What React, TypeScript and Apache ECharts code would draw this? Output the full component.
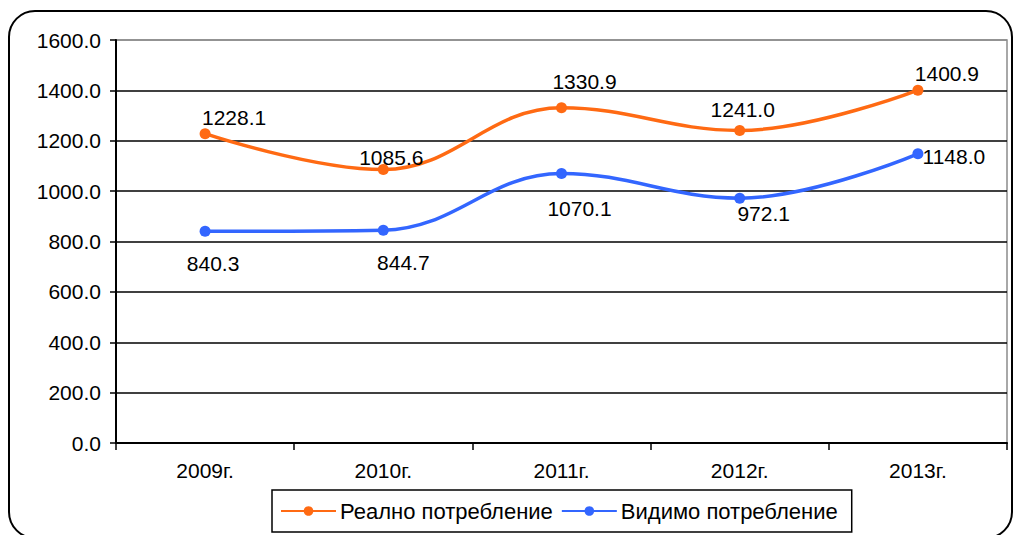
import React, { useEffect, useRef } from "react";
import * as echarts from "echarts";

const categories = ["2009г.", "2010г.", "2011г.", "2012г.", "2013г."];
const realValues = [1228.1, 1085.6, 1330.9, 1241.0, 1400.9];
const visibleValues = [840.3, 844.7, 1070.1, 972.1, 1148.0];
const seriesNames = ["Реално потребление", "Видимо потребление"];
const yTicks = { min: 0, max: 1600, interval: 200 };

const realOffsets = [[29, -16], [8, -12], [23, -26], [3, -21], [29, -17]];
const visibleOffsets = [[8, 32], [20, 32], [18, 35], [24, 15], [36, 3]];

const FONT = "'Liberation Sans', Arial, sans-serif";
const FS = 21;

export default function App() {
  const ref = useRef<HTMLDivElement>(null);
  useEffect(() => {
    if (!ref.current) return;
    const chart = echarts.init(ref.current, undefined, { renderer: "svg" });
    const mk = (vals: number[], offs: number[][]) =>
      vals.map((v, i) => ({
        value: v,
        label: { position: "inside", offset: offs[i] },
      }));
    const labelStyle = {
      show: true,
      color: "#000",
      fontSize: FS,
      fontFamily: FONT,
      formatter: (p: any) => Number(p.value).toFixed(1),
    };
    const splitColors = Array.from({ length: 9 }, (_, i) => (i === 8 ? "#8c8c8c" : "#000"));
    chart.setOption({
      animation: false,
      backgroundColor: "#fff",
      textStyle: { fontFamily: FONT },
      graphic: [
        {
          type: "rect",
          shape: { x: 9, y: 11, width: 1003, height: 527, r: 26 },
          style: { fill: "none", stroke: "#000", lineWidth: 2 },
          z: 100,
          silent: true,
        },
      ],
      grid: {
        left: 116,
        right: 7,
        top: 40,
        bottom: 92,
        show: true,
        borderColor: "#8c8c8c",
        borderWidth: 1.5,
        backgroundColor: "transparent",
      },
      legend: {
        left: 272,
        top: 490,
        width: 680,
        padding: [10, 14, 10, 8],
        itemGap: 8,
        itemWidth: 55,
        itemHeight: 12,
        borderColor: "#000",
        borderWidth: 1.5,
        textStyle: { fontSize: 22, color: "#000", fontFamily: FONT, padding: [0, 0, 0, -1] },
        data: seriesNames,
      },
      xAxis: {
        type: "category",
        data: categories,
        boundaryGap: true,
        axisLine: { show: true, lineStyle: { color: "#000", width: 2 } },
        axisTick: { show: true, length: 7, lineStyle: { color: "#000", width: 1.5 } },
        axisLabel: { color: "#000", fontSize: FS, fontFamily: FONT, margin: 17 },
        splitLine: { show: false },
      },
      yAxis: {
        type: "value",
        min: yTicks.min,
        max: yTicks.max,
        interval: yTicks.interval,
        axisLine: { show: true, lineStyle: { color: "#000", width: 2 } },
        axisTick: { show: true, length: 6, lineStyle: { color: "#000", width: 1.5 } },
        axisLabel: {
          color: "#000",
          fontSize: FS,
          fontFamily: FONT,
          margin: 15,
          formatter: (v: number) => v.toFixed(1),
        },
        splitLine: { show: true, lineStyle: { color: splitColors, width: 1.5 } },
      },
      series: [
        {
          name: seriesNames[0],
          type: "line",
          data: mk(realValues, realOffsets),
          smooth: 0.4,
          symbol: "circle",
          symbolSize: 11,
          itemStyle: { color: "#ff6a13" },
          lineStyle: { color: "#ff6a13", width: 3.5 },
          label: labelStyle,
          z: 3,
        },
        {
          name: seriesNames[1],
          type: "line",
          data: mk(visibleValues, visibleOffsets),
          smooth: 0.4,
          symbol: "circle",
          symbolSize: 11,
          itemStyle: { color: "#3366ff" },
          lineStyle: { color: "#3366ff", width: 3.5 },
          label: labelStyle,
          z: 3,
        },
      ],
    });
    return () => chart.dispose();
  }, []);
  return (
    <div
      ref={ref}
      style={{ position: "fixed", left: 0, top: 0, width: 1014, height: 535, background: "#fff" }}
    />
  );
}
